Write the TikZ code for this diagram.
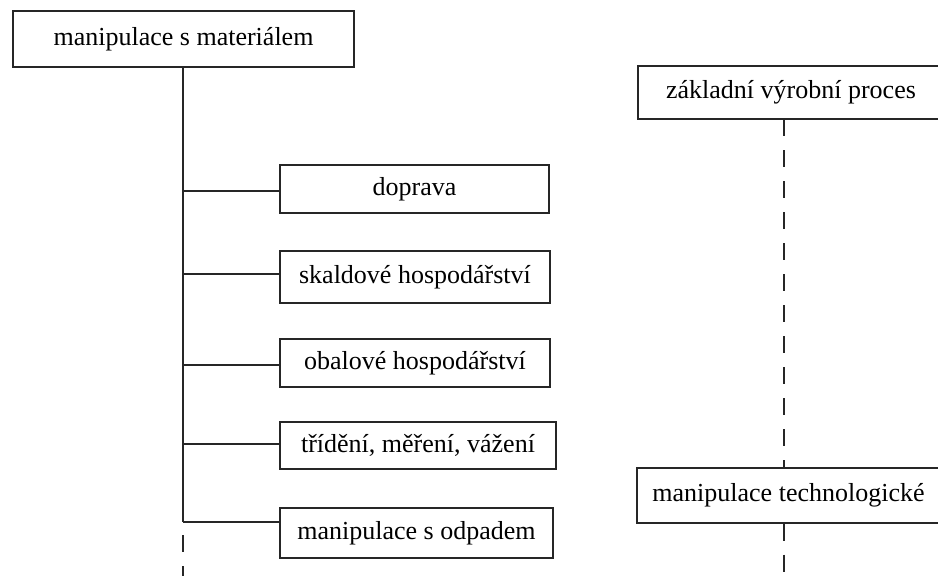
\documentclass[tikz,border=0pt]{standalone}
\usepackage{fontspec}
\setmainfont{Liberation Serif}
\begin{document}
\begin{tikzpicture}[x=1pt,y=-1pt,
  box/.style={draw=black!85, line width=1.3pt, fill=white, inner sep=0pt,
    font=\fontsize{26}{31}\selectfont, text=black},
  link/.style={draw=black!85, line width=1.3pt},
  dashlink/.style={draw=black!85, line width=1.3pt, dash pattern=on 17pt off 14pt}]
  \useasboundingbox (0,0) rectangle (938,576);
  \clip (0,0) rectangle (938,576);

  % left branch: material handling and its parts
  \node[box, minimum width=341pt, minimum height=56pt] (main) at (183.5,39) {manipulace s materiálem};
  \node[box, minimum width=269pt, minimum height=48pt] (doprava) at (414.5,189) {doprava};
  \node[box, minimum width=270pt, minimum height=52pt] (sklad) at (415,277) {skaldové hospodářství};
  \node[box, minimum width=270pt, minimum height=48pt] (obal) at (415,363) {obalové hospodářství};
  \node[box, minimum width=276pt, minimum height=47pt] (trideni) at (418,445.5) {třídění, měření, vážení};
  \node[box, minimum width=273pt, minimum height=50pt] (odpad) at (416.5,533) {manipulace s odpadem};

  \coordinate (j1) at (183,191);
  \coordinate (j2) at (183,274);
  \coordinate (j3) at (183,365);
  \coordinate (j4) at (183,444);
  \coordinate (j5) at (183,522);
  \coordinate (lend) at (183,580);

  \draw[link] (main.south -| j1) -- (j5);
  \draw[link] (j1) -- (j1 -| doprava.west);
  \draw[link] (j2) -- (j2 -| sklad.west);
  \draw[link] (j3) -- (j3 -| obal.west);
  \draw[link] (j4) -- (j4 -| trideni.west);
  \draw[link] (j5) -- (j5 -| odpad.west);
  \draw[dashlink, dash phase=-13pt] (j5) -- (lend);

  % right branch: production process
  \node[box, minimum width=306pt, minimum height=53pt] (vyroba) at (791,92.5) {základní výrobní proces};
  \node[box, minimum width=303pt, minimum height=55pt] (tech) at (788.5,495.5) {manipulace technologické};
  \coordinate (rtop) at (784,119);
  \coordinate (rend) at (784,580);

  \draw[dashlink] (rtop) -- (rtop |- tech.north);
  \draw[dashlink] (rtop |- tech.south) -- (rend);
\end{tikzpicture}
\end{document}
